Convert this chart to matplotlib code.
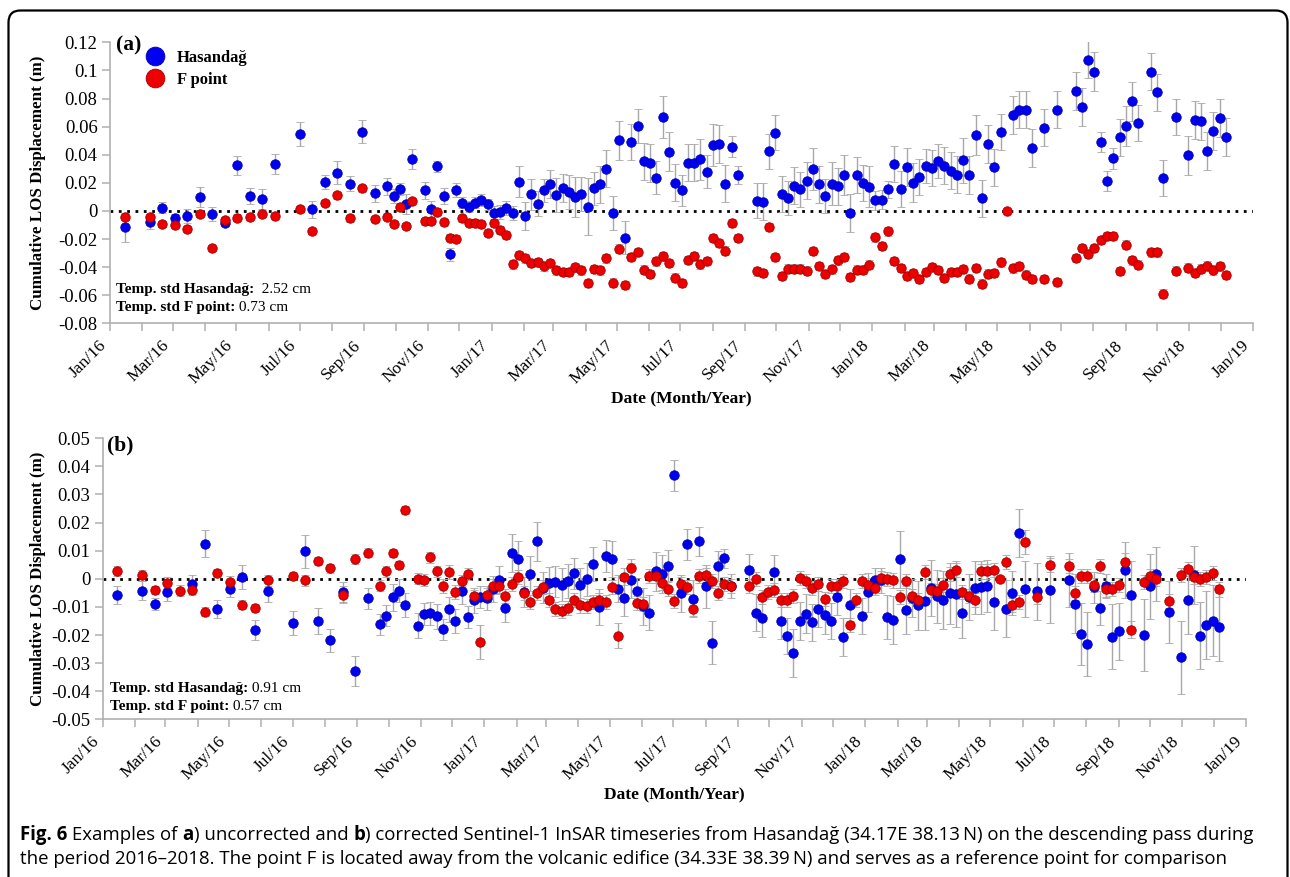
import matplotlib
matplotlib.use('Agg')
import matplotlib.pyplot as plt
import matplotlib.dates as mdates
from matplotlib.lines import Line2D
from matplotlib.patches import FancyBboxPatch
from matplotlib.transforms import IdentityTransform
from matplotlib.ticker import FuncFormatter
import numpy as np
from datetime import datetime

nan = np.nan

# ---------------- data ----------------
dates_str = [
    '2016-01-15', '2016-02-08', '2016-02-20', '2016-03-03', '2016-03-15', '2016-03-27', '2016-04-08', '2016-04-20',
    '2016-05-02', '2016-05-14', '2016-05-26', '2016-06-07', '2016-07-01', '2016-07-13', '2016-07-25', '2016-08-06',
    '2016-08-18', '2016-08-30', '2016-09-11', '2016-09-23', '2016-09-29', '2016-10-05', '2016-10-11', '2016-10-17',
    '2016-10-29', '2016-11-04', '2016-11-10', '2016-11-16', '2016-11-22', '2016-11-28', '2016-12-04', '2016-12-10',
    '2016-12-16', '2016-12-22', '2016-12-28', '2017-01-03', '2017-01-09', '2017-01-15', '2017-01-21', '2017-01-27',
    '2017-02-02', '2017-02-08', '2017-02-14', '2017-02-20', '2017-02-26', '2017-03-04', '2017-03-10', '2017-03-16',
    '2017-03-22', '2017-03-28', '2017-04-03', '2017-04-09', '2017-04-15', '2017-04-21', '2017-04-27', '2017-05-03',
    '2017-05-09', '2017-05-15', '2017-05-21', '2017-05-27', '2017-06-02', '2017-06-08', '2017-06-14', '2017-06-20',
    '2017-06-26', '2017-07-02', '2017-07-08', '2017-07-14', '2017-07-20', '2017-07-26', '2017-08-01', '2017-08-07',
    '2017-08-13', '2017-08-19', '2017-08-25', '2017-09-12', '2017-09-18', '2017-09-24', '2017-09-30', '2017-10-06',
    '2017-10-12', '2017-10-18', '2017-10-24', '2017-10-30', '2017-11-05', '2017-11-11', '2017-11-17', '2017-11-23',
    '2017-11-29', '2017-12-05', '2017-12-11', '2017-12-17', '2017-12-23', '2017-12-29', '2018-01-04', '2018-01-10',
    '2018-01-16', '2018-01-22', '2018-01-28', '2018-02-03', '2018-02-09', '2018-02-15', '2018-02-21', '2018-02-27',
    '2018-03-05', '2018-03-11', '2018-03-17', '2018-03-23', '2018-03-29', '2018-04-04', '2018-04-10', '2018-04-16',
    '2018-04-22', '2018-04-28', '2018-05-04', '2018-05-10', '2018-05-16', '2018-05-22', '2018-05-28', '2018-06-03',
    '2018-06-15', '2018-06-27', '2018-07-15', '2018-07-21', '2018-07-27', '2018-08-02', '2018-08-08', '2018-08-14',
    '2018-08-20', '2018-08-26', '2018-09-01', '2018-09-07', '2018-09-13', '2018-09-25', '2018-10-01', '2018-10-07',
    '2018-10-19', '2018-10-31', '2018-11-06', '2018-11-12', '2018-11-18', '2018-11-24', '2018-11-30', '2018-12-06',
]

# (a) uncorrected
a_hasandag = [
    -0.0118, -0.0078, 0.0024, -0.0054, -0.0035, 0.0101, -0.0024, -0.0089, 0.0324, 0.0106, 0.0087, 0.0334,
    0.0546, 0.0012, 0.0205, 0.0270, 0.0195, 0.0564, 0.0125, 0.0176, 0.0106, 0.0157, 0.0047, 0.0371,
    0.0146, 0.0012, 0.0317, 0.0106, -0.0310, 0.0146, 0.0059, 0.0031, 0.0059, 0.0078, 0.0047, -0.0012,
    -0.0007, 0.0024, -0.0012, 0.0207, -0.0035, 0.0118, 0.0052, 0.0146, 0.0193, 0.0113, 0.0160, 0.0136,
    0.0099, 0.0122, 0.0031, 0.0160, 0.0188, 0.0301, -0.0016, 0.0503, -0.0190, 0.0491, 0.0602, 0.0353,
    0.0341, 0.0237, 0.0670, 0.0421, 0.0202, 0.0146, 0.0343, 0.0343, 0.0367, 0.0280, 0.0472, 0.0477,
    0.0195, 0.0456, 0.0254, 0.0071, 0.0066, 0.0425, 0.0555, 0.0120, 0.0092, 0.0179, 0.0153, 0.0216,
    0.0301, 0.0190, 0.0106, 0.0195, 0.0174, 0.0256, -0.0016, 0.0254, 0.0197, 0.0172, 0.0075, 0.0080,
    0.0153, 0.0334, 0.0155, 0.0310, 0.0200, 0.0240, 0.0322, 0.0306, 0.0353, 0.0322, 0.0287, 0.0259,
    0.0360, 0.0254, 0.0541, 0.0089, 0.0477, 0.0310, 0.0562, nan, 0.0684, 0.0721, 0.0721, 0.0449,
    0.0592, 0.0721, 0.0851, 0.0740, 0.1076, 0.0992, 0.0489, 0.0212, 0.0374, 0.0524, 0.0604, 0.0780,
    0.0627, 0.0992, 0.0844, 0.0235, 0.0670, 0.0397, 0.0649, 0.0637, 0.0425, 0.0571, 0.0663, 0.0526,
]
a_hasandag_err = [
    0.0106, 0.0050, 0.0040, 0.0030, 0.0050, 0.0070, 0.0050, 0.0020, 0.0070, 0.0060, 0.0070, 0.0073,
    0.0086, 0.0060, 0.0047, 0.0082, 0.0055, 0.0080, 0.0062, 0.0060, 0.0050, 0.0045, 0.0070, 0.0073,
    0.0060, 0.0060, 0.0040, 0.0060, 0.0045, 0.0050, 0.0040, 0.0040, 0.0040, 0.0040, 0.0040, 0.0050,
    0.0050, 0.0050, 0.0050, 0.0110, 0.0100, 0.0110, 0.0090, 0.0080, 0.0100, 0.0120, 0.0100, 0.0120,
    0.0140, 0.0120, 0.0200, 0.0120, 0.0130, 0.0130, 0.0120, 0.0140, 0.0120, 0.0130, 0.0120, 0.0130,
    0.0135, 0.0120, 0.0150, 0.0140, 0.0130, 0.0110, 0.0130, 0.0130, 0.0145, 0.0120, 0.0150, 0.0135,
    0.0135, 0.0075, 0.0065, 0.0125, 0.0130, 0.0125, 0.0125, 0.0130, 0.0120, 0.0130, 0.0127, 0.0130,
    0.0150, 0.0133, 0.0123, 0.0150, 0.0130, 0.0140, 0.0135, 0.0130, 0.0130, 0.0147, 0.0067, 0.0070,
    0.0060, 0.0130, 0.0130, 0.0135, 0.0140, 0.0130, 0.0120, 0.0130, 0.0120, 0.0130, 0.0130, 0.0130,
    0.0160, 0.0135, 0.0143, 0.0133, 0.0137, 0.0130, 0.0127, nan, 0.0134, 0.0130, 0.0130, 0.0133,
    0.0130, 0.0130, 0.0135, 0.0137, 0.0130, 0.0137, 0.0073, 0.0073, 0.0073, 0.0130, 0.0140, 0.0140,
    0.0128, 0.0130, 0.0133, 0.0130, 0.0130, 0.0139, 0.0134, 0.0130, 0.0136, 0.0134, 0.0135, 0.0135,
]
a_fpoint = [
    -0.0042, -0.0042, -0.0094, -0.0101, -0.0129, -0.0019, -0.0266, -0.0063, -0.0047, -0.0042, -0.0019, -0.0038,
    0.0016, -0.0141, 0.0056, 0.0110, -0.0054, 0.0160, -0.0059, -0.0040, -0.0094, 0.0028, -0.0106, 0.0071,
    -0.0075, -0.0070, -0.0005, -0.0082, -0.0190, -0.0197, -0.0052, -0.0085, -0.0085, -0.0096, -0.0157, -0.0085,
    -0.0136, -0.0169, -0.0381, -0.0315, -0.0338, -0.0369, -0.0367, -0.0395, -0.0371, -0.0423, -0.0435, -0.0435,
    -0.0402, -0.0423, -0.0515, -0.0414, -0.0423, -0.0338, -0.0510, -0.0268, -0.0529, -0.0327, -0.0291, -0.0418,
    -0.0451, -0.0360, -0.0324, -0.0369, -0.0475, -0.0515, -0.0348, -0.0320, -0.0381, -0.0357, -0.0193, -0.0230,
    -0.0282, -0.0085, -0.0193, -0.0430, -0.0444, -0.0115, -0.0329, -0.0463, -0.0411, -0.0411, -0.0411, -0.0425,
    -0.0287, -0.0392, -0.0451, -0.0416, -0.0352, -0.0327, -0.0470, -0.0418, -0.0418, -0.0383, -0.0188, -0.0251,
    -0.0146, -0.0355, -0.0407, -0.0463, -0.0442, -0.0486, -0.0435, -0.0400, -0.0421, -0.0479, -0.0435, -0.0435,
    -0.0414, -0.0482, -0.0407, -0.0517, -0.0447, -0.0444, -0.0367, 0.0000, -0.0409, -0.0395, -0.0454, -0.0484,
    -0.0484, -0.0508, -0.0334, -0.0266, -0.0306, -0.0266, -0.0209, -0.0179, -0.0179, -0.0428, -0.0240, -0.0353,
    -0.0383, -0.0296, -0.0296, -0.0588, -0.0425, -0.0404, -0.0444, -0.0411, -0.0390, -0.0423, -0.0395, -0.0458,
]
a_fpoint_err = [
    0.0022, 0.0022, 0.0022, 0.0022, 0.0022, 0.0022, 0.0022, 0.0022, 0.0022, 0.0022, 0.0022, 0.0022,
    0.0022, 0.0022, 0.0022, 0.0022, 0.0022, 0.0022, 0.0022, 0.0022, 0.0022, 0.0022, 0.0022, 0.0022,
    0.0025, 0.0025, 0.0025, 0.0025, 0.0025, 0.0025, 0.0025, 0.0025, 0.0025, 0.0025, 0.0025, 0.0025,
    0.0028, 0.0028, 0.0030, 0.0030, 0.0030, 0.0030, 0.0030, 0.0030, 0.0030, 0.0030, 0.0030, 0.0030,
    0.0030, 0.0030, 0.0030, 0.0030, 0.0030, 0.0030, 0.0030, 0.0030, 0.0030, 0.0030, 0.0030, 0.0030,
    0.0030, 0.0030, 0.0030, 0.0030, 0.0030, 0.0030, 0.0030, 0.0030, 0.0030, 0.0030, 0.0030, 0.0030,
    0.0030, 0.0030, 0.0030, 0.0030, 0.0030, 0.0030, 0.0030, 0.0030, 0.0030, 0.0030, 0.0030, 0.0030,
    0.0030, 0.0030, 0.0030, 0.0030, 0.0030, 0.0030, 0.0030, 0.0030, 0.0030, 0.0030, 0.0030, 0.0030,
    0.0030, 0.0030, 0.0030, 0.0030, 0.0030, 0.0030, 0.0030, 0.0030, 0.0030, 0.0030, 0.0030, 0.0030,
    0.0030, 0.0030, 0.0030, 0.0030, 0.0030, 0.0030, 0.0030, 0.0000, 0.0030, 0.0030, 0.0030, 0.0030,
    0.0030, 0.0030, 0.0030, 0.0030, 0.0030, 0.0030, 0.0030, 0.0030, 0.0030, 0.0030, 0.0030, 0.0030,
    0.0030, 0.0030, 0.0030, 0.0030, 0.0030, 0.0030, 0.0030, 0.0030, 0.0030, 0.0030, 0.0030, 0.0030,
]

# (b) corrected
b_hasandag = [
    -0.0058, -0.0042, -0.0090, -0.0048, nan, -0.0020, 0.0124, -0.0108, -0.0037, 0.0007, -0.0181, -0.0044,
    -0.0157, 0.0098, -0.0150, -0.0219, -0.0048, -0.0328, -0.0070, -0.0162, -0.0132, -0.0065, -0.0042, -0.0093,
    -0.0167, -0.0125, -0.0123, -0.0133, -0.0180, -0.0108, -0.0150, -0.0044, -0.0136, -0.0077, -0.0065, -0.0069,
    -0.0036, -0.0004, -0.0104, 0.0092, 0.0069, -0.0048, 0.0018, 0.0133, -0.0032, -0.0015, -0.0010, -0.0021,
    -0.0007, 0.0020, -0.0021, -0.0002, 0.0052, -0.0101, 0.0081, 0.0071, -0.0036, -0.0070, -0.0006, -0.0043,
    -0.0098, -0.0120, 0.0026, 0.0017, 0.0046, 0.0368, -0.0052, 0.0123, -0.0071, 0.0133, -0.0027, -0.0227,
    0.0046, 0.0073, -0.0025, 0.0033, -0.0120, -0.0140, nan, 0.0024, -0.0151, -0.0203, -0.0263, -0.0151,
    -0.0124, -0.0155, -0.0109, -0.0130, -0.0150, -0.0064, -0.0207, -0.0093, nan, -0.0131, -0.0048, -0.0006,
    -0.0006, -0.0137, -0.0146, 0.0069, -0.0112, -0.0069, -0.0094, -0.0079, -0.0033, -0.0062, -0.0075, -0.0052,
    -0.0055, -0.0121, -0.0065, -0.0031, -0.0030, -0.0026, -0.0081, nan, -0.0106, -0.0051, 0.0162, -0.0037,
    -0.0045, -0.0039, -0.0004, -0.0088, -0.0196, -0.0233, -0.0030, -0.0104, -0.0026, -0.0206, -0.0187, 0.0031,
    -0.0056, -0.0200, -0.0027, 0.0017, -0.0118, -0.0280, -0.0076, 0.0015, -0.0202, -0.0165, -0.0149, -0.0173,
]
b_hasandag_err = [
    0.0031, 0.0034, 0.0020, 0.0030, nan, 0.0033, 0.0048, 0.0033, 0.0029, 0.0042, 0.0036, 0.0038,
    0.0044, 0.0059, 0.0047, 0.0040, 0.0035, 0.0054, 0.0038, 0.0038, 0.0037, 0.0048, 0.0040, 0.0042,
    0.0044, 0.0038, 0.0040, 0.0045, 0.0038, 0.0045, 0.0042, 0.0045, 0.0038, 0.0045, 0.0040, 0.0042,
    0.0045, 0.0050, 0.0050, 0.0068, 0.0064, 0.0054, 0.0063, 0.0070, 0.0055, 0.0058, 0.0055, 0.0058,
    0.0060, 0.0055, 0.0058, 0.0060, 0.0060, 0.0064, 0.0057, 0.0064, 0.0048, 0.0063, 0.0063, 0.0046,
    0.0065, 0.0063, 0.0071, 0.0066, 0.0055, 0.0055, 0.0065, 0.0055, 0.0065, 0.0052, 0.0076, 0.0076,
    0.0054, 0.0034, 0.0043, 0.0054, 0.0065, 0.0067, nan, 0.0060, 0.0064, 0.0065, 0.0085, 0.0067,
    0.0070, 0.0065, 0.0064, 0.0068, 0.0065, 0.0064, 0.0068, 0.0057, nan, 0.0064, 0.0070, 0.0045,
    0.0043, 0.0078, 0.0085, 0.0100, 0.0085, 0.0067, 0.0087, 0.0104, 0.0100, 0.0095, 0.0104, 0.0110,
    0.0117, 0.0088, 0.0082, 0.0095, 0.0094, 0.0092, 0.0100, nan, 0.0100, 0.0077, 0.0085, 0.0100,
    0.0100, 0.0120, 0.0095, 0.0104, 0.0110, 0.0114, 0.0055, 0.0061, 0.0042, 0.0115, 0.0101, 0.0100,
    0.0120, 0.0128, 0.0116, 0.0097, 0.0109, 0.0130, 0.0121, 0.0103, 0.0119, 0.0120, 0.0126, 0.0121,
]
b_fpoint = [
    0.0029, 0.0013, -0.0039, -0.0014, -0.0042, -0.0039, -0.0117, 0.0020, -0.0010, -0.0092, -0.0104, -0.0006,
    0.0010, -0.0006, 0.0064, 0.0037, -0.0056, 0.0071, 0.0093, -0.0024, 0.0026, 0.0092, 0.0050, 0.0245,
    0.0000, -0.0004, 0.0076, 0.0027, -0.0026, 0.0025, -0.0046, -0.0007, 0.0017, -0.0061, -0.0226, -0.0057,
    -0.0024, -0.0026, -0.0061, -0.0018, 0.0007, -0.0052, -0.0083, -0.0050, -0.0029, -0.0076, -0.0107, -0.0114,
    -0.0105, -0.0074, -0.0095, -0.0098, -0.0082, -0.0076, -0.0084, -0.0030, -0.0203, 0.0008, 0.0040, -0.0086,
    -0.0089, 0.0011, 0.0011, -0.0015, -0.0035, -0.0079, -0.0020, -0.0030, -0.0108, 0.0010, 0.0013, -0.0007,
    -0.0052, -0.0018, -0.0026, -0.0026, -0.0001, -0.0064, -0.0048, -0.0040, -0.0074, -0.0074, -0.0062, 0.0004,
    -0.0008, -0.0032, -0.0020, -0.0071, -0.0027, -0.0026, -0.0007, -0.0164, -0.0077, -0.0008, -0.0023, -0.0032,
    0.0004, -0.0002, -0.0006, -0.0065, -0.0008, -0.0062, -0.0075, 0.0024, -0.0039, -0.0044, -0.0023, 0.0017,
    0.0033, -0.0048, -0.0061, -0.0075, 0.0026, 0.0026, 0.0032, 0.0000, 0.0060, -0.0093, -0.0082, 0.0131,
    -0.0063, 0.0049, 0.0045, -0.0051, 0.0010, 0.0010, -0.0023, 0.0044, -0.0038, -0.0035, -0.0023, 0.0061,
    -0.0181, -0.0013, 0.0011, -0.0002, -0.0079, 0.0014, 0.0035, 0.0008, -0.0001, 0.0005, 0.0021, -0.0038,
]
b_fpoint_err = [
    0.0018, 0.0020, 0.0015, 0.0020, 0.0020, 0.0018, 0.0015, 0.0015, 0.0020, 0.0015, 0.0015, 0.0018,
    0.0015, 0.0018, 0.0015, 0.0015, 0.0030, 0.0018, 0.0015, 0.0020, 0.0020, 0.0015, 0.0015, 0.0015,
    0.0020, 0.0020, 0.0020, 0.0020, 0.0025, 0.0025, 0.0025, 0.0020, 0.0020, 0.0020, 0.0060, 0.0025,
    0.0025, 0.0025, 0.0025, 0.0025, 0.0025, 0.0025, 0.0025, 0.0025, 0.0025, 0.0025, 0.0025, 0.0025,
    0.0025, 0.0025, 0.0025, 0.0025, 0.0025, 0.0025, 0.0025, 0.0025, 0.0045, 0.0030, 0.0030, 0.0025,
    0.0025, 0.0025, 0.0025, 0.0025, 0.0025, 0.0025, 0.0025, 0.0025, 0.0025, 0.0025, 0.0025, 0.0025,
    0.0025, 0.0025, 0.0025, 0.0025, 0.0025, 0.0025, 0.0025, 0.0025, 0.0025, 0.0025, 0.0025, 0.0025,
    0.0025, 0.0025, 0.0025, 0.0025, 0.0025, 0.0025, 0.0025, 0.0025, 0.0025, 0.0025, 0.0025, 0.0025,
    0.0025, 0.0025, 0.0025, 0.0025, 0.0025, 0.0025, 0.0025, 0.0025, 0.0025, 0.0025, 0.0025, 0.0025,
    0.0025, 0.0025, 0.0025, 0.0025, 0.0025, 0.0025, 0.0025, 0.0000, 0.0025, 0.0025, 0.0025, 0.0042,
    0.0025, 0.0025, 0.0025, 0.0025, 0.0025, 0.0025, 0.0025, 0.0025, 0.0025, 0.0025, 0.0025, 0.0030,
    0.0030, 0.0025, 0.0025, 0.0025, 0.0025, 0.0025, 0.0025, 0.0025, 0.0025, 0.0025, 0.0025, 0.0025,
]

series_labels = ['Hasandağ', 'F point']
panel_labels = ['(a)', '(b)']
std_texts = [
    [('Temp. std Hasandağ:', '  2.52 cm'), ('Temp. std F point:', ' 0.73 cm')],
    [('Temp. std Hasandağ:', ' 0.91 cm'), ('Temp. std F point:', ' 0.57 cm')],
]
yticks_a = [-0.08, -0.06, -0.04, -0.02, 0, 0.02, 0.04, 0.06, 0.08, 0.1, 0.12]
yticks_b = [-0.05, -0.04, -0.03, -0.02, -0.01, 0, 0.01, 0.02, 0.03, 0.04, 0.05]
xlabel = 'Date (Month/Year)'
ylabel = 'Cumulative LOS Displacement (m)'
caption_l1 = [('Fig. 6', 'bold'), (' Examples of ', 'normal'), ('a', 'bold'), (') uncorrected and ', 'normal'),
              ('b', 'bold'), (') corrected Sentinel-1 InSAR timeseries from Hasandağ (34.17E 38.13\u2009N) on the descending pass during', 'normal')]
caption_l2 = [('the period 2016–2018. The point F is located away from the volcanic edifice (34.33E 38.39\u2009N) and serves as a reference point for comparison', 'normal')]

# ---------------- figure ----------------
dates = [datetime.strptime(s, '%Y-%m-%d') for s in dates_str]
W, H = 1290, 877
plt.rcParams['axes.unicode_minus'] = False
SERIF = 'Liberation Serif'
SANS = ['Open Sans', 'DejaVu Sans']
BLUE, BLUE_E = '#0000f0', '#0000b0'
RED, RED_E = '#ee0000', '#a00000'
ERRC = '#a8a8a8'
SPC = '#b0b0b0'

fig = plt.figure(figsize=(W / 100, H / 100), dpi=100)
renderer = fig.canvas.get_renderer()


def px_axes(left, top, right, bottom):
    return fig.add_axes([left / W, 1 - bottom / H, (right - left) / W, (bottom - top) / H])


def fmt(v, pos):
    v = round(v, 4)
    if abs(v) < 1e-9:
        return '0'
    return f'{v:g}'


def style_axes(ax, yticks):
    ax.set_ylim(yticks[0], yticks[-1])
    ax.set_yticks(yticks)
    ax.yaxis.set_major_formatter(FuncFormatter(fmt))
    ax.set_xlim(datetime(2016, 1, 1), datetime(2019, 1, 1))
    ax.xaxis.set_major_locator(mdates.MonthLocator(bymonth=[1, 3, 5, 7, 9, 11]))
    ax.xaxis.set_minor_locator(mdates.MonthLocator(bymonth=[2, 4, 6, 8, 10, 12]))
    ax.xaxis.set_major_formatter(mdates.DateFormatter('%b/%y'))
    for s in ['top', 'right']:
        ax.spines[s].set_visible(False)
    for s in ['left', 'bottom']:
        ax.spines[s].set_color(SPC)
        ax.spines[s].set_linewidth(1.2)
    ax.tick_params(axis='both', which='both', direction='out', length=6, width=1.1, color=SPC)
    ax.tick_params(axis='y', labelsize=13.5, pad=3)
    ax.tick_params(axis='x', labelsize=12.5, pad=4)
    for lab in ax.get_yticklabels():
        lab.set_family(SERIF)
    for lab in ax.get_xticklabels():
        lab.set_family(SERIF)
        lab.set_rotation(45)
        lab.set_ha('right')
    ax.axhline(0, color='black', lw=2.0, ls=(0, (1, 2)), zorder=1)
    ax.set_xlabel(xlabel, family=SERIF, fontweight='bold', fontsize=12.5)
    ax.set_ylabel(ylabel, family=SERIF, fontweight='bold', fontsize=12.2)


def plot_series(ax, y, e, face, edge):
    ax.errorbar(dates, y, yerr=e, fmt='o', ms=6.8, mfc=face, mec=edge, mew=0.6,
                ecolor=ERRC, elinewidth=1.0, capsize=3.2, capthick=1.0, zorder=3)


def rich(x, y, parts, size, family):
    for s, w in parts:
        t = fig.text(x / W, 1 - y / H, s, fontsize=size, fontweight=w, family=family,
                     ha='left', va='baseline')
        x += t.get_window_extent(renderer=renderer).width


ax_a = px_axes(110, 42.3, 1253, 323.3)
ax_b = px_axes(102.7, 438.3, 1246, 719.3)

plot_series(ax_a, a_hasandag, a_hasandag_err, BLUE, BLUE_E)
plot_series(ax_a, a_fpoint, a_fpoint_err, RED, RED_E)
plot_series(ax_b, b_hasandag, b_hasandag_err, BLUE, BLUE_E)
plot_series(ax_b, b_fpoint, b_fpoint_err, RED, RED_E)

style_axes(ax_a, yticks_a)
style_axes(ax_b, yticks_b)

ax_a.xaxis.set_label_coords(0.5, -0.24)
ax_b.xaxis.set_label_coords(0.5, -0.24)
ax_a.yaxis.set_label_coords(-0.056, 0.5)
ax_b.yaxis.set_label_coords(-0.050, 0.5)

# legend in panel (a)
handles = [Line2D([], [], ls='', marker='o', ms=13.5, mfc=BLUE, mec=BLUE_E, mew=0.6),
           Line2D([], [], ls='', marker='o', ms=13.5, mfc=RED, mec=RED_E, mew=0.6)]
ax_a.legend(handles, series_labels, loc='upper left', bbox_to_anchor=(0.019, 1.025), frameon=False,
            prop={'family': SERIF, 'weight': 'bold', 'size': 12}, handlelength=1.0,
            handletextpad=0.8, labelspacing=0.32, borderpad=0.4)

# panel letters
fig.text(116 / W, 1 - 35 / H, panel_labels[0], family=SERIF, fontweight='bold', fontsize=15.5, va='top', ha='left')
fig.text(107 / W, 1 - 435 / H, panel_labels[1], family=SERIF, fontweight='bold', fontsize=15.5, va='top', ha='left')

# std texts
for (bx, by), lines in zip([(116, 293), (110, 692)], std_texts):
    for i, (b, n) in enumerate(lines):
        rich(bx, by + i * 18, [(b, 'bold'), (n, 'normal')], 11, SERIF)

# caption, fitted to the line width
probe = fig.text(0, 0, ''.join(s for s, _ in caption_l1), fontsize=12, family=SANS)
wprobe = probe.get_window_extent(renderer=renderer).width
probe.remove()
csize = 12 * 1228 / wprobe
rich(20, 840, caption_l1, csize, SANS)
rich(20, 864, caption_l2, csize, SANS)

# outer frame
frame = FancyBboxPatch((8.5, -30), 1279, H - 10.5 + 30, boxstyle='round,pad=0,rounding_size=12',
                       transform=IdentityTransform(), fill=False, ec='black', lw=1.6)
fig.add_artist(frame)

fig.savefig('out.png', dpi=100)
